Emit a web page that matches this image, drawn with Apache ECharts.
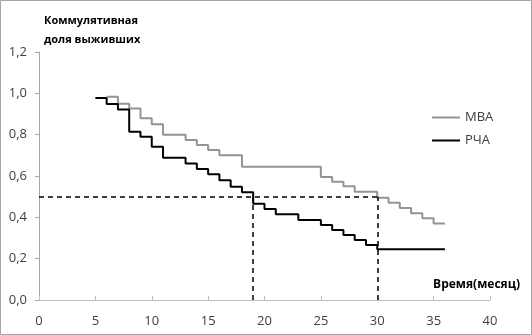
<!DOCTYPE html>
<html>
<head>
<meta charset="utf-8">
<script src="https://cdn.jsdelivr.net/npm/echarts@6/dist/echarts.min.js"></script>
<style>
  html, body { margin: 0; padding: 0; background: #fff; }
  #main { width: 532px; height: 335px; }
</style>
</head>
<body>
<div id="main"></div>
<script>
// time points (months) where each curve steps, and survival after the step
var mbaTimes = [6, 7, 8, 9, 10, 11, 13, 14, 15, 16, 18, 25, 26, 27, 28, 30, 31, 32, 33, 34, 35, 36];
var mbaSurv  = [0.983, 0.95, 0.927, 0.88, 0.85, 0.80, 0.774, 0.75, 0.726, 0.70, 0.645, 0.595, 0.572, 0.55, 0.524, 0.495, 0.47, 0.445, 0.42, 0.395, 0.37, 0.37];

var rchaTimes = [5, 6, 7, 8, 9, 10, 11, 13, 14, 15, 16, 17, 18, 19, 20, 21, 23, 25, 26, 27, 28, 29, 30, 36];
var rchaSurv  = [0.977, 0.948, 0.922, 0.814, 0.79, 0.742, 0.688, 0.661, 0.634, 0.608, 0.58, 0.548, 0.521, 0.466, 0.44, 0.415, 0.387, 0.363, 0.339, 0.314, 0.29, 0.266, 0.245, 0.245];

var seriesNames = ['МВА', 'РЧА'];
// median lines
var medianLevel = 0.5;
var medianTimes = [19, 30];

var xTicks = { min: 0, max: 40, interval: 5 };
var yTicks = { min: 0, max: 1.2, interval: 0.2 };

function pairs(t, v) {
  var out = [];
  for (var i = 0; i < t.length; i++) out.push([t[i], v[i]]);
  return out;
}

var chart = echarts.init(document.getElementById('main'), null, { renderer: 'canvas' });

var font = '"Open Sans", "DejaVu Sans", sans-serif';

var markData = [
  [{ coord: [0, medianLevel] }, { coord: [medianTimes[1], medianLevel] }]
];
medianTimes.forEach(function (t) {
  markData.push([{ coord: [t, 0] }, { coord: [t, medianLevel] }]);
});

var option = {
  animation: false,
  textStyle: { fontFamily: font },
  grid: { left: 39, right: 42, top: 52, bottom: 35, containLabel: false },
  legend: {
    data: seriesNames,
    orient: 'vertical',
    left: 427,
    top: 106,
    icon: 'rect',
    itemWidth: 28,
    itemHeight: 2,
    itemGap: 10,
    textStyle: { fontSize: 13, color: '#404040', fontFamily: font }
  },
  xAxis: {
    type: 'value',
    min: xTicks.min,
    max: xTicks.max,
    interval: xTicks.interval,
    axisLine: { show: true, lineStyle: { color: '#bfbfbf', width: 1 } },
    axisTick: { show: true, inside: true, length: 4, lineStyle: { color: '#bfbfbf' } },
    axisLabel: { color: '#404040', fontSize: 13, margin: 15, fontFamily: font },
    splitLine: { show: false }
  },
  yAxis: {
    type: 'value',
    min: yTicks.min,
    max: yTicks.max,
    interval: yTicks.interval,
    axisLine: { show: true, lineStyle: { color: '#a6a6a6', width: 1 } },
    axisTick: { show: true, length: 4, lineStyle: { color: '#a6a6a6' } },
    axisLabel: {
      color: '#404040', fontSize: 13, margin: 12, fontFamily: font,
      formatter: function (v) { return v.toFixed(1).replace('.', ','); }
    },
    splitLine: { show: false }
  },
  graphic: [
    { type: 'rect', shape: { x: 0.5, y: 0.5, width: 531, height: 334 }, style: { fill: 'none', stroke: '#a6a6a6', lineWidth: 1 }, silent: true },
    { type: 'text', left: 44, top: 15, style: { text: 'Коммулятивная', font: 'bold 11px ' + font, fill: '#000' } },
    { type: 'text', left: 44, top: 34, style: { text: 'доля выживших', font: 'bold 11px ' + font, fill: '#000' } },
    { type: 'text', right: 12, top: 279, style: { text: 'Время(месяц)', font: 'bold 12px ' + font, fill: '#000' } }
  ],
  series: [
    {
      name: seriesNames[0],
      type: 'line',
      step: 'end',
      showSymbol: false,
      symbol: 'none',
      data: pairs(mbaTimes, mbaSurv),
      itemStyle: { color: '#949494' },
      lineStyle: { color: '#949494', width: 2 }
    },
    {
      name: seriesNames[1],
      type: 'line',
      step: 'end',
      showSymbol: false,
      symbol: 'none',
      data: pairs(rchaTimes, rchaSurv),
      itemStyle: { color: '#000' },
      lineStyle: { color: '#000', width: 2 },
      markLine: {
        silent: true,
        symbol: 'none',
        label: { show: false },
        lineStyle: { color: '#000', width: 1.5, type: [5, 4] },
        data: markData
      }
    }
  ]
};

chart.setOption(option);
</script>
</body>
</html>
